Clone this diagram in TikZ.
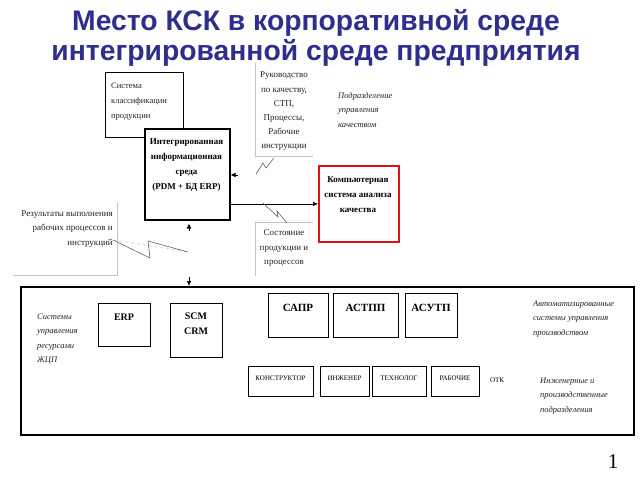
\documentclass[tikz,border=0pt]{standalone}
\usepackage{fontspec}
\setmainfont{Liberation Serif}
\newfontfamily\titlefont{Liberation Sans}
\usetikzlibrary{arrows.meta}
\definecolor{titleblue}{HTML}{2E2E8C}
\definecolor{framegray}{HTML}{C4C4C4}
\definecolor{boxred}{HTML}{DD1111}
\definecolor{txtgray}{HTML}{222222}
\tikzset{
  box/.style={draw, line width=0.9pt, inner sep=0pt, anchor=north west},
  thickbox/.style={draw, line width=1.5pt, inner sep=0pt, anchor=north west},
  redbox/.style={draw=boxred, line width=1.8pt, inner sep=0pt, anchor=north west},
  smallbox/.style={draw, line width=0.8pt, inner sep=0pt, anchor=north west},
  txt/.style={inner sep=0pt, align=center, text=txtgray, font=\fontsize{9}{14.2}\selectfont},
  btxt/.style={inner sep=0pt, align=center, font=\bfseries\fontsize{9}{15}\selectfont},
  itxt/.style={inner sep=0pt, align=left, text=txtgray, font=\itshape\fontsize{8.5}{14.3}\selectfont},
  captxt/.style={inner sep=0pt, align=center, font=\fontsize{7}{9}\selectfont},
  frameline/.style={draw=framegray, line width=0.6pt},
  flash/.style={draw=black!70, line width=0.5pt},
  arr/.style={line width=0.6pt, -{Latex[length=5pt,width=4.5pt]}}
}
\begin{document}
\begin{tikzpicture}[x=1pt,y=-1pt]
\useasboundingbox[fill=white] (0,0) rectangle (640,480);

% title
\node[align=center, inner sep=0pt, text=titleblue, font=\titlefont\bfseries\fontsize{28.3}{30}\selectfont] (title) at (316,38) {Место КСК в корпоративной среде\\интегрированной среде предприятия};

% upper boxes
\node[box, minimum width=78pt, minimum height=65pt] (cls) at (105,72) {};
\node[txt, align=left, anchor=west, font=\fontsize{8.5}{15}\selectfont] (clstext) at (111,102) {Система\\классификации\\продукции};

\node[thickbox, fill=white, minimum width=85pt, minimum height=91pt] (ims) at (144,128) {};
\node[btxt] (imstext) at (186.5,165) {Интегрированная\\информационная\\среда\\(PDM + БД ERP)};

\node[redbox, minimum width=80pt, minimum height=76pt] (red) at (318,165) {};
\node[btxt] (redtext) at (358,195) {Компьютерная\\система анализа\\качества};

% side texts
\node[txt] (guide) at (284,111.5) {Руководство\\по качеству,\\СТП,\\Процессы,\\Рабочие\\инструкции};
\draw[frameline] (255,63) -- (255,156) -- (313,156);

\node[txt] (state) at (284,248) {Состояние\\продукции и\\процессов};
\draw[frameline] (313,222) -- (255,222) -- (255,276);

\node[txt, align=right, anchor=east] (results) at (113,229) {Результаты выполнения\\рабочих процессов и\\инструкций};
\draw[frameline] (117,203) -- (117,275) -- (13,275);

\node[itxt, anchor=west] (qdept) at (338,110) {Подразделение\\управления\\качеством};

% connectors
\draw[arr] (ims.east |- red.west) -- (red.west);
\coordinate (qin) at (238,175);
\draw[arr] (qin) -- (qin -| ims.east);
\coordinate (rin) at (189,231);
\draw[arr, shorten >=3pt] (rin) -- (rin |- ims.south);

% lightning marks
\draw[flash] (256,174) -- (263,163) -- (266,168) -- (274,158);
\draw[flash] (263,203) -- (278,217) -- (277,211) -- (287,223);
\draw[frameline, dashed] (113,240) -- (188,252);
\draw[flash] (113,240) -- (150,258) -- (148,241) -- (188,252);

% main box
\node[thickbox, minimum width=613pt, minimum height=148pt] (main) at (20,286) {};
\coordinate (down) at (189,277);
\draw[arr] (down) -- (down |- main.north);

\node[itxt, anchor=west] (res) at (37,339) {Системы\\управления\\ресурсами\\ЖЦП};

\node[box, minimum width=52pt, minimum height=43pt] (erp) at (98,303) {};
\node[btxt, font=\bfseries\fontsize{10}{15}\selectfont] (erptext) at (124,317) {ERP};
\node[box, minimum width=52pt, minimum height=54pt] (scm) at (170,303) {};
\node[btxt, font=\bfseries\fontsize{10}{15}\selectfont] (scmtext) at (196,323.5) {SCM\\CRM};

\node[box, minimum width=60pt, minimum height=44pt] (sapr) at (268,293) {};
\node[btxt, font=\bfseries\fontsize{11}{15}\selectfont] (saprtext) at (298,308) {САПР};
\node[box, minimum width=65pt, minimum height=44pt] (astpp) at (333,293) {};
\node[btxt, font=\bfseries\fontsize{11}{15}\selectfont] (astpptext) at (365.5,308) {АСТПП};
\node[box, minimum width=52pt, minimum height=44pt] (asutp) at (405,293) {};
\node[btxt, font=\bfseries\fontsize{11}{15}\selectfont] (asutptext) at (431,308) {АСУТП};

\node[itxt, anchor=west] (auto) at (533,319) {Автоматизированные\\системы управления\\производством};

\node[smallbox, minimum width=65pt, minimum height=30pt] (konst) at (248,366) {};
\node[captxt] (konsttext) at (280.5,378) {КОНСТРУКТОР};
\node[smallbox, minimum width=49pt, minimum height=30pt] (inzh) at (320,366) {};
\node[captxt] (inzhtext) at (344.5,378) {ИНЖЕНЕР};
\node[smallbox, minimum width=54pt, minimum height=30pt] (tech) at (372,366) {};
\node[captxt] (techtext) at (399,378) {ТЕХНОЛОГ};
\node[smallbox, minimum width=48pt, minimum height=30pt] (work) at (431,366) {};
\node[captxt] (worktext) at (455,378) {РАБОЧИЕ};
\node[captxt] (otk) at (497,380) {ОТК};

\node[itxt, anchor=west] (eng) at (540,396) {Инженерные и\\производственные\\подразделения};

\node[inner sep=0pt, font=\fontsize{21}{24}\selectfont] (pnum) at (613,462) {1};
\end{tikzpicture}
\end{document}
